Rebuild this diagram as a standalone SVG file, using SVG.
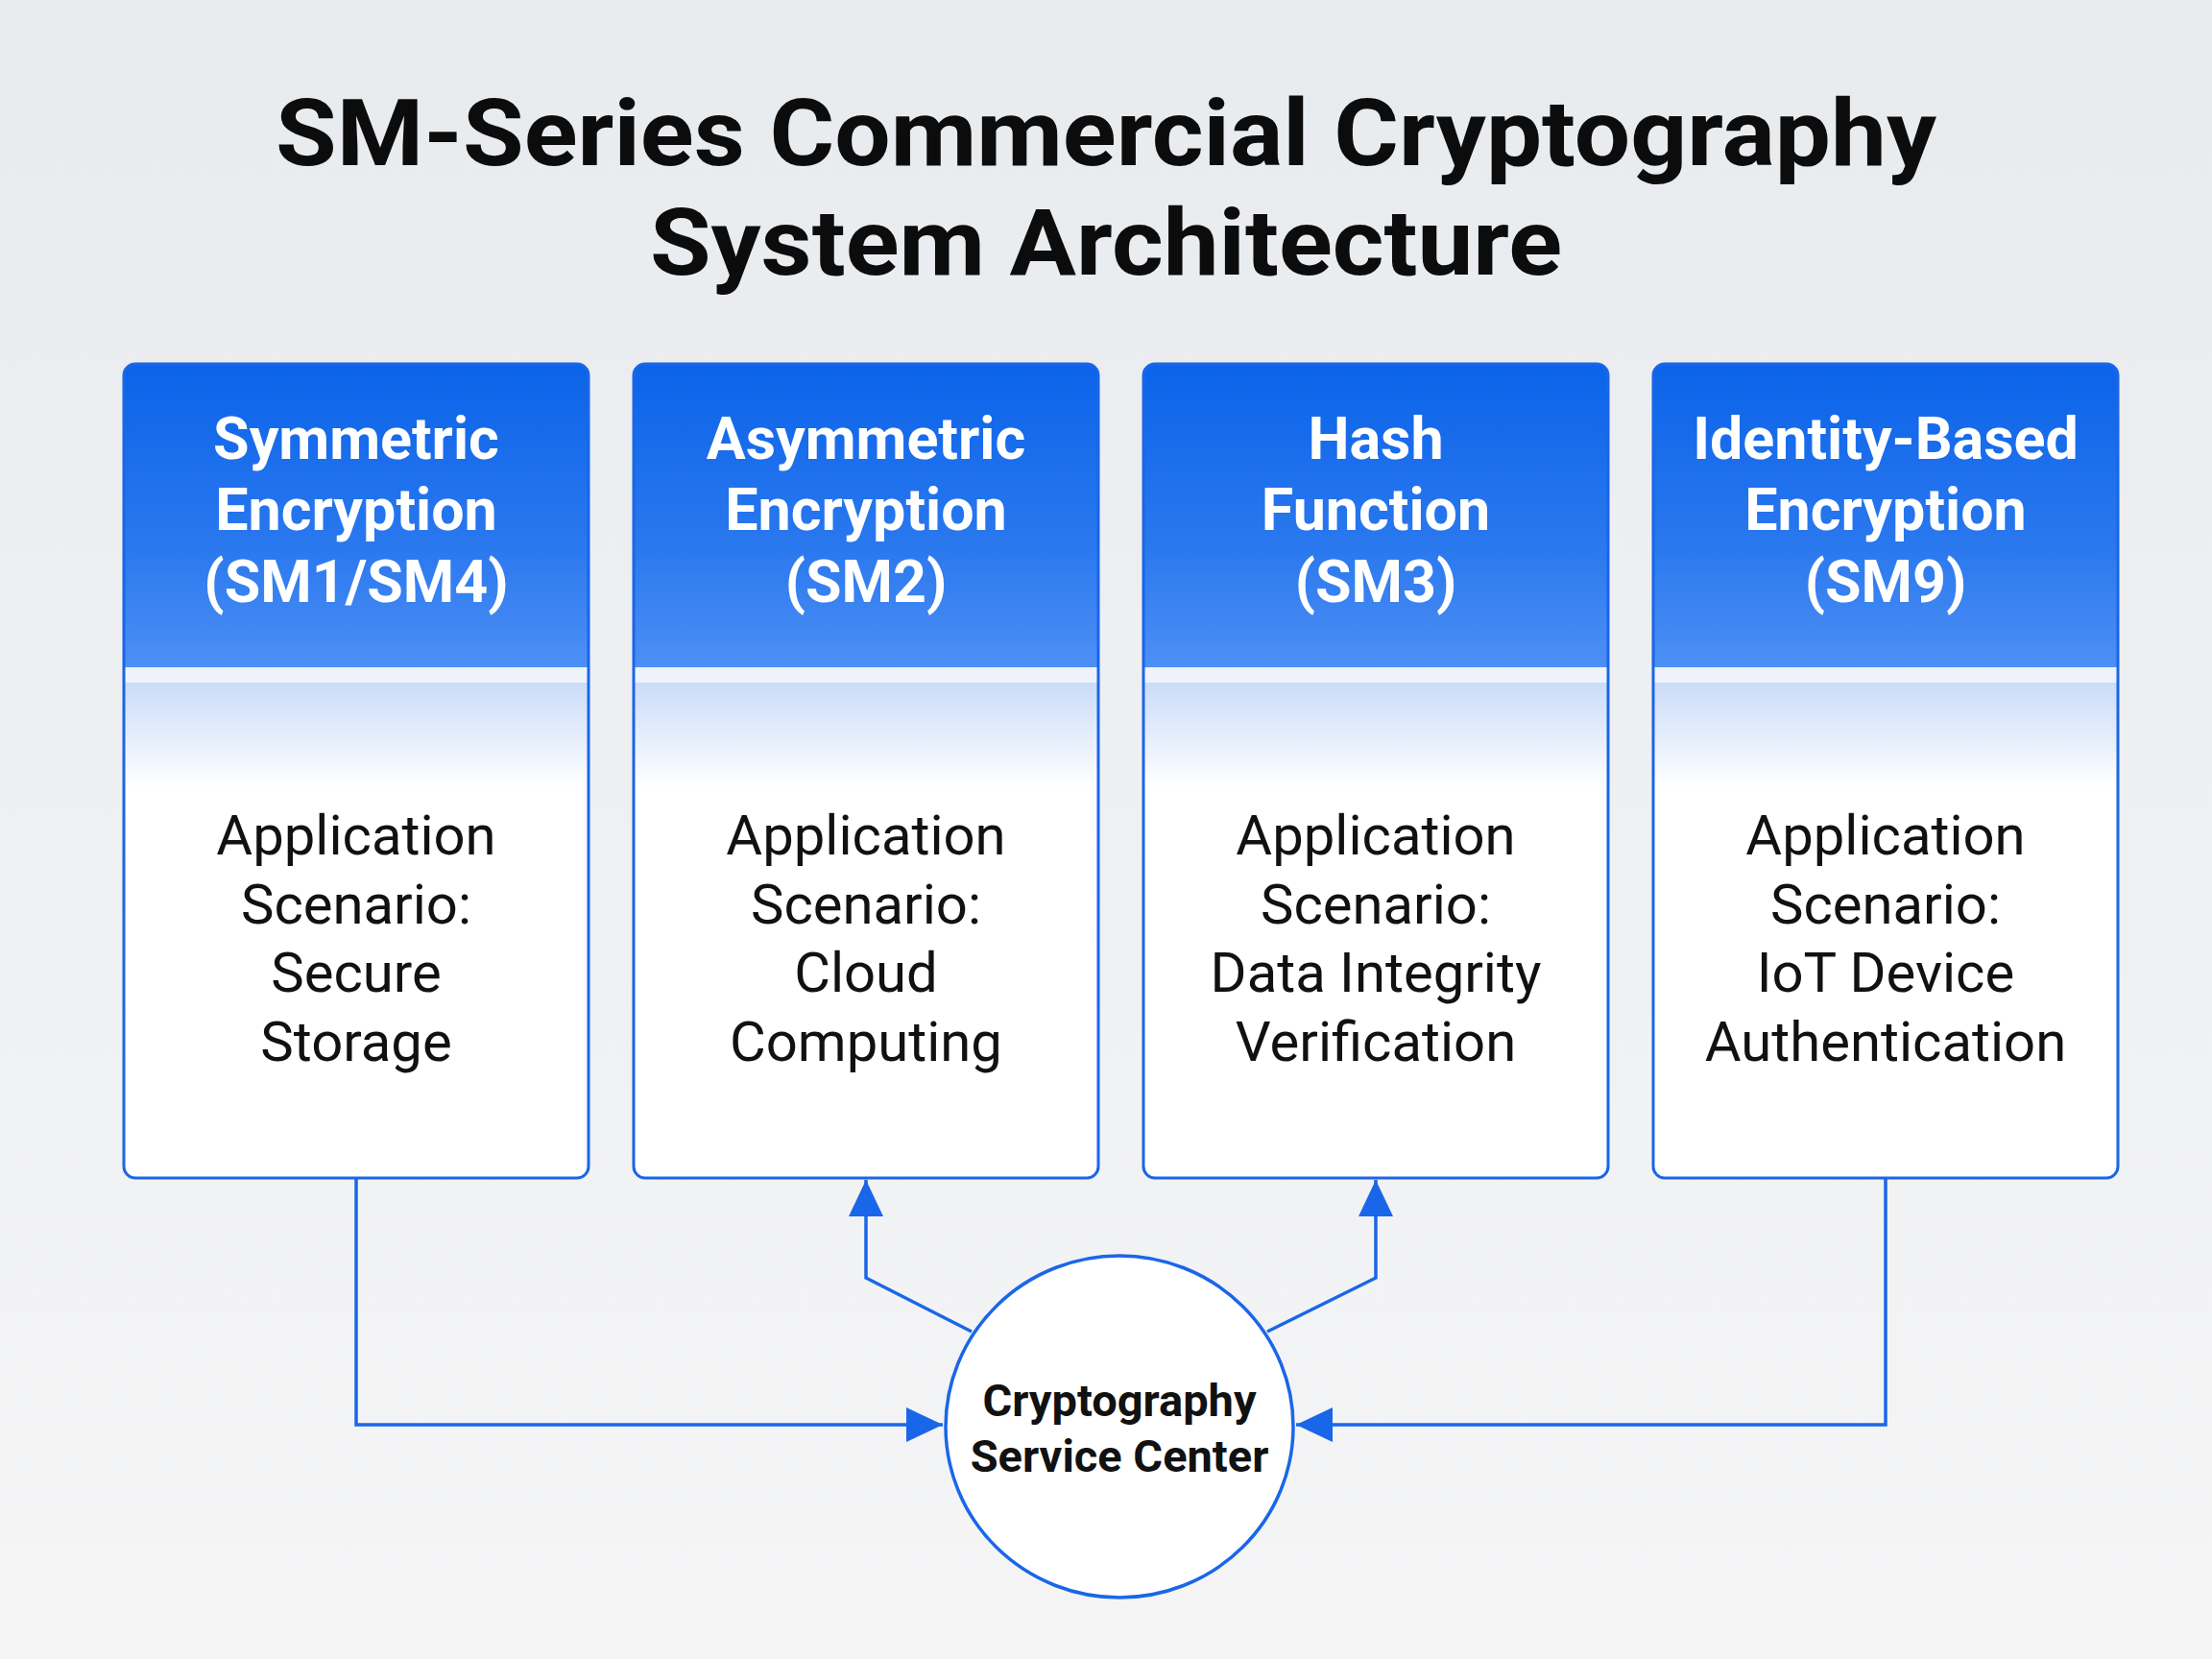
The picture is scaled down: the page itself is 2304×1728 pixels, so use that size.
<svg xmlns="http://www.w3.org/2000/svg" width="2304" height="1728" viewBox="0 0 2304 1728">
<defs>
<linearGradient id="bg" x1="0" y1="0" x2="0" y2="1">
<stop offset="0" stop-color="#e8ebee"/>
<stop offset="1" stop-color="#f5f5f6"/>
</linearGradient>
<linearGradient id="hdr" x1="0" y1="0" x2="0" y2="1">
<stop offset="0" stop-color="#0b63e9"/>
<stop offset="0.6" stop-color="#2a78ee"/>
<stop offset="1" stop-color="#4d8ff5"/>
</linearGradient>
<linearGradient id="fade" x1="0" y1="0" x2="0" y2="1">
<stop offset="0" stop-color="#cadcf8"/>
<stop offset="1" stop-color="#ffffff"/>
</linearGradient>
<clipPath id="c1"><rect x="129" y="379" width="484" height="848" rx="12"/></clipPath>
<clipPath id="c2"><rect x="660" y="379" width="484" height="848" rx="12"/></clipPath>
<clipPath id="c3"><rect x="1191" y="379" width="484" height="848" rx="12"/></clipPath>
<clipPath id="c4"><rect x="1722" y="379" width="484" height="848" rx="12"/></clipPath>
<marker id="arr" markerWidth="38" markerHeight="36" refX="38" refY="18" orient="auto" markerUnits="userSpaceOnUse">
<path d="M0,0 L38,18 L0,36 Z" fill="#1a66e8"/>
</marker>
</defs>
<style>
.title{font-family:Roboto,"Liberation Sans",sans-serif;font-weight:700;font-size:96px;fill:#0c0c0c;text-anchor:middle}
.hd{font-family:Roboto,"Liberation Sans",sans-serif;font-weight:700;font-size:61px;fill:#ffffff;text-anchor:middle}
.bd{font-family:Roboto,"Liberation Sans",sans-serif;font-weight:400;font-size:58px;fill:#111111;text-anchor:middle}
.ct{font-family:Roboto,"Liberation Sans",sans-serif;font-weight:700;font-size:47px;fill:#111111;text-anchor:middle}
.frame{fill:none;stroke:#1a66e8;stroke-width:3}
.conn{fill:none;stroke:#1a66e8;stroke-width:3.5}
</style>
<rect width="2304" height="1728" fill="url(#bg)"/>
<g id="title">
<text class="title" x="1152" y="172" textLength="1730" lengthAdjust="spacingAndGlyphs">SM-Series Commercial Cryptography</text>
<text class="title" x="1152" y="286" textLength="950" lengthAdjust="spacingAndGlyphs">System Architecture</text>
</g>
<g id="connectors">
<path class="conn" d="M371,1227 V1484 H982" marker-end="url(#arr)"/>
<path class="conn" d="M1964,1227 V1484 H1350" marker-end="url(#arr)"/>
<path class="conn" d="M1012,1387 L902,1331 V1229" marker-end="url(#arr)"/>
<path class="conn" d="M1320,1387 L1433,1331 V1229" marker-end="url(#arr)"/>
</g>
<g id="node-sm1-sm4">
<g clip-path="url(#c1)">
<rect x="129" y="379" width="484" height="848" fill="#ffffff"/>
<rect x="129" y="379" width="484" height="316" fill="url(#hdr)"/>
<rect x="129" y="695" width="484" height="16" fill="#eef3fb"/>
<rect x="129" y="711" width="484" height="110" fill="url(#fade)"/>
</g>
<rect class="frame" x="129" y="379" width="484" height="848" rx="12"/>
<text class="hd" x="371" y="478">Symmetric</text>
<text class="hd" x="371" y="552">Encryption</text>
<text class="hd" x="371" y="627">(SM1/SM4)</text>
<text class="bd" x="371" y="890">Application</text>
<text class="bd" x="371" y="962">Scenario:</text>
<text class="bd" x="371" y="1033">Secure</text>
<text class="bd" x="371" y="1105">Storage</text>
</g>
<g id="node-sm2">
<g clip-path="url(#c2)">
<rect x="660" y="379" width="484" height="848" fill="#ffffff"/>
<rect x="660" y="379" width="484" height="316" fill="url(#hdr)"/>
<rect x="660" y="695" width="484" height="16" fill="#eef3fb"/>
<rect x="660" y="711" width="484" height="110" fill="url(#fade)"/>
</g>
<rect class="frame" x="660" y="379" width="484" height="848" rx="12"/>
<text class="hd" x="902" y="478">Asymmetric</text>
<text class="hd" x="902" y="552">Encryption</text>
<text class="hd" x="902" y="627">(SM2)</text>
<text class="bd" x="902" y="890">Application</text>
<text class="bd" x="902" y="962">Scenario:</text>
<text class="bd" x="902" y="1033">Cloud</text>
<text class="bd" x="902" y="1105">Computing</text>
</g>
<g id="node-sm3">
<g clip-path="url(#c3)">
<rect x="1191" y="379" width="484" height="848" fill="#ffffff"/>
<rect x="1191" y="379" width="484" height="316" fill="url(#hdr)"/>
<rect x="1191" y="695" width="484" height="16" fill="#eef3fb"/>
<rect x="1191" y="711" width="484" height="110" fill="url(#fade)"/>
</g>
<rect class="frame" x="1191" y="379" width="484" height="848" rx="12"/>
<text class="hd" x="1433" y="478">Hash</text>
<text class="hd" x="1433" y="552">Function</text>
<text class="hd" x="1433" y="627">(SM3)</text>
<text class="bd" x="1433" y="890">Application</text>
<text class="bd" x="1433" y="962">Scenario:</text>
<text class="bd" x="1433" y="1033">Data Integrity</text>
<text class="bd" x="1433" y="1105">Verification</text>
</g>
<g id="node-sm9">
<g clip-path="url(#c4)">
<rect x="1722" y="379" width="484" height="848" fill="#ffffff"/>
<rect x="1722" y="379" width="484" height="316" fill="url(#hdr)"/>
<rect x="1722" y="695" width="484" height="16" fill="#eef3fb"/>
<rect x="1722" y="711" width="484" height="110" fill="url(#fade)"/>
</g>
<rect class="frame" x="1722" y="379" width="484" height="848" rx="12"/>
<text class="hd" x="1964" y="478">Identity-Based</text>
<text class="hd" x="1964" y="552">Encryption</text>
<text class="hd" x="1964" y="627">(SM9)</text>
<text class="bd" x="1964" y="890">Application</text>
<text class="bd" x="1964" y="962">Scenario:</text>
<text class="bd" x="1964" y="1033">IoT Device</text>
<text class="bd" x="1964" y="1105">Authentication</text>
</g>
<g id="node-center">
<ellipse cx="1166" cy="1486" rx="181" ry="178" fill="#ffffff" stroke="#1a66e8" stroke-width="3.5"/>
<text class="ct" x="1166" y="1475">Cryptography</text>
<text class="ct" x="1166" y="1533">Service Center</text>
</g>
</svg>
